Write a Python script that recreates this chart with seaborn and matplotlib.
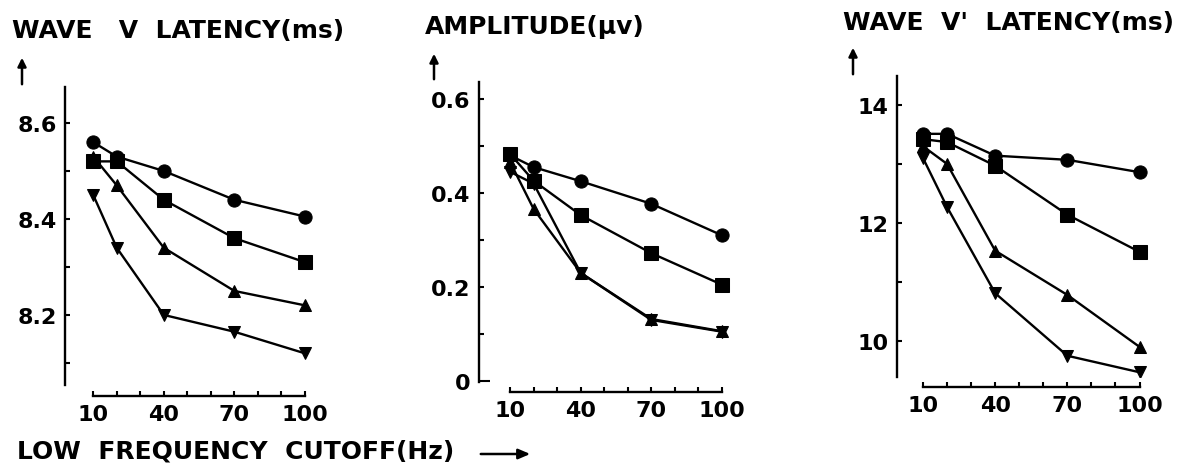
import numpy as np
import pandas as pd
import matplotlib
matplotlib.use("Agg")
import matplotlib.pyplot as plt
import seaborn as sns

sns.set_theme(style="white")
plt.rcParams['font.family'] = ['DejaVu Sans']

freq = [10, 20, 40, 70, 100]
series_names = ["circle", "square", "tri_up", "tri_down"]

# Panel 1: Wave V latency (ms)
lat_v_circle = [8.56, 8.53, 8.50, 8.44, 8.405]
lat_v_square = [8.52, 8.52, 8.44, 8.36, 8.31]
lat_v_tri_up = [8.53, 8.47, 8.34, 8.25, 8.22]
lat_v_tri_down = [8.45, 8.34, 8.20, 8.165, 8.12]

# Panel 2: Amplitude (uV)
amp_circle = [0.48, 0.455, 0.425, 0.377, 0.31]
amp_square = [0.483, 0.426, 0.353, 0.272, 0.205]
amp_tri_up = [0.466, 0.366, 0.23, 0.132, 0.106]
amp_tri_down = [0.445, 0.42, 0.23, 0.13, 0.105]

# Panel 3: Wave V' latency (ms)
lat_vp_circle = [13.51, 13.51, 13.14, 13.07, 12.86]
lat_vp_square = [13.42, 13.37, 12.97, 12.14, 11.51]
lat_vp_tri_up = [13.30, 13.00, 11.53, 10.78, 9.90]
lat_vp_tri_down = [13.10, 12.27, 10.81, 9.75, 9.47]

titles = ["WAVE   V  LATENCY(ms)", "AMPLITUDE(\u00b5v)", "WAVE  V'  LATENCY(ms)"]
xticks = [10, 40, 70, 100]
xticklabels = ["10", "40", "70", "100"]
yticks_major = [[8.2, 8.4, 8.6], [0, 0.2, 0.4, 0.6], [10, 12, 14]]
yticklabels = [["8.2", "8.4", "8.6"], ["0", "0.2", "0.4", "0.6"], ["10", "12", "14"]]
yticks_minor = [[8.1, 8.3, 8.5], [0.1, 0.3, 0.5], [11, 13]]
xlabel = "LOW  FREQUENCY  CUTOFF(Hz)"

def long_df(vals):
    rows = []
    for name, v in zip(series_names, vals):
        for f, y in zip(freq, v):
            rows.append({"freq": f, "value": y, "series": name})
    return pd.DataFrame(rows)

panels = [
    long_df([lat_v_circle, lat_v_square, lat_v_tri_up, lat_v_tri_down]),
    long_df([amp_circle, amp_square, amp_tri_up, amp_tri_down]),
    long_df([lat_vp_circle, lat_vp_square, lat_vp_tri_up, lat_vp_tri_down]),
]

W, H = 1201, 477
fig = plt.figure(figsize=(W / 100, H / 100), dpi=100)

layout = [
    dict(l=65, r=319, t=88, b=386, xlim=(-2, 106), ylim=(8.054, 8.675), out=8),
    dict(l=479, r=736, t=83, b=383, xlim=(-3.2, 106), ylim=(-0.002, 0.636), out=7),
    dict(l=897, r=1154, t=77, b=378, xlim=(-0.8, 106), ylim=(9.39, 14.49), out=7),
]
markers = {"circle": "o", "square": "s", "tri_up": "^", "tri_down": "v"}
msize = {"circle": 9.5, "square": 9.5, "tri_up": 8.5, "tri_down": 8.5}

for i, (df, L) in enumerate(zip(panels, layout)):
    ax = fig.add_axes([L["l"] / W, 1 - L["b"] / H, (L["r"] - L["l"]) / W, (L["b"] - L["t"]) / H])
    ax.set_facecolor("white")
    for name in series_names:
        sub = df[df["series"] == name]
        sns.lineplot(data=sub, x="freq", y="value", ax=ax, color="black",
                     marker=markers[name], markersize=msize[name], linewidth=1.7,
                     markeredgecolor="black", markerfacecolor="black", legend=False)
    ax.set_xlim(*L["xlim"])
    ax.set_ylim(*L["ylim"])
    ax.set_xlabel("")
    ax.set_ylabel("")
    for s in ["top", "right"]:
        ax.spines[s].set_visible(False)
    for s in ["left", "bottom"]:
        ax.spines[s].set_color("black")
        ax.spines[s].set_linewidth(1.7)
    ax.spines["bottom"].set_position(("outward", L["out"]))
    ax.spines["bottom"].set_bounds(10, 100)
    ax.set_xticks(xticks)
    ax.set_xticklabels(xticklabels)
    ax.set_xticks([20, 30, 50, 60, 80, 90], minor=True)
    ax.set_yticks(yticks_major[i])
    ax.set_yticklabels(yticklabels[i])
    ax.set_yticks(yticks_minor[i], minor=True)
    ax.tick_params(axis="both", which="both", direction="in", length=3.5, width=1.5,
                   color="black", labelsize=16, labelcolor="black", bottom=True, left=True)
    ax.tick_params(axis="y", which="both", pad=6)
    ax.tick_params(axis="x", which="both", pad=6)
    for lab in ax.get_xticklabels() + ax.get_yticklabels():
        lab.set_fontweight("bold")
    if i == 1:
        ax.yaxis.get_major_ticks()[0].tick1line.set_markersize(8)
    ax.grid(False)

# titles
fig.text(12 / W, 1 - 31 / H, titles[0], fontsize=18, fontweight="bold", va="center", ha="left", color="black")
fig.text(425 / W, 1 - 27 / H, titles[1], fontsize=18, fontweight="bold", va="center", ha="left", color="black")
fig.text(843 / W, 1 - 23 / H, titles[2], fontsize=18, fontweight="bold", va="center", ha="left", color="black")

# up arrows
for x, y0, y1 in [(22, 88, 56), (434, 83, 52), (853, 78, 46)]:
    fig.add_artist(matplotlib.patches.FancyArrowPatch(
        (x / W, 1 - y0 / H), (x / W, 1 - y1 / H), transform=fig.transFigure,
        arrowstyle="-|>,head_length=5,head_width=2.5", color="black", linewidth=1.8))

# bottom label and arrow
fig.text(17 / W, 1 - 452 / H, xlabel, fontsize=18, fontweight="bold", va="center", ha="left", color="black")
fig.add_artist(matplotlib.patches.FancyArrowPatch(
    (478 / W, 1 - 455 / H), (533 / W, 1 - 455 / H), transform=fig.transFigure,
    arrowstyle="-|>,head_length=7,head_width=3", color="black", linewidth=1.8))

fig.savefig("out.png", dpi=100, facecolor="white")
